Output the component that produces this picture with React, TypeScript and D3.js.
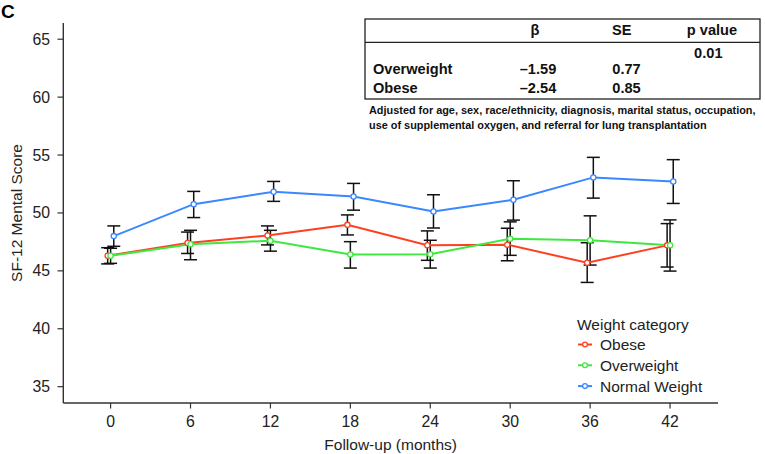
import React from "react";
import * as d3 from "d3";

const months = [0, 6, 12, 18, 24, 30, 36, 42];
const xTicks = [0, 6, 12, 18, 24, 30, 36, 42];
const yTicks = [35, 40, 45, 50, 55, 60, 65];

const seriesNames = ["Obese", "Overweight", "Normal Weight"];
const seriesColors = ["#ff4020", "#3ee83e", "#3a88ff"];
const seriesDodge = [-0.22, 0, 0.24];

const obeseMean = [46.3, 47.4, 48.05, 48.97, 47.21, 47.26, 45.7, 47.2];
const obeseLow = [45.6, 46.5, 47.24, 48.1, 45.91, 45.87, 44.0, 45.33];
const obeseHigh = [47.0, 48.35, 48.88, 49.83, 48.45, 48.68, 47.43, 49.08];

const overMean = [46.3, 47.3, 47.6, 46.42, 46.43, 47.77, 47.64, 47.22];
const overLow = [45.65, 45.96, 46.7, 45.24, 45.24, 46.34, 45.5, 44.98];
const overHigh = [46.95, 48.5, 48.5, 47.52, 47.64, 49.23, 49.75, 49.4];

const normMean = [48.0, 50.76, 51.83, 51.42, 50.12, 51.14, 53.07, 52.72];
const normLow = [47.12, 49.6, 51.0, 50.24, 48.7, 49.38, 51.28, 50.82];
const normHigh = [48.88, 51.86, 52.72, 52.55, 51.57, 52.78, 54.8, 54.6];

const tableHeaders = ["β", "SE", "p value"];
const tableRows = ["Overweight", "Obese"];
const tableBeta = ["–1.59", "–2.54"];
const tableSE = ["0.77", "0.85"];
const tableP = "0.01";
const footnote = [
  "Adjusted for age, sex, race/ethnicity, diagnosis, marital status, occupation,",
  "use of supplemental oxygen, and referral for lung transplantation",
];

const FONT = "'Liberation Sans', Arial, Helvetica, sans-serif";

export default function App() {
  const W = 765;
  const H = 454;
  const x = d3.scaleLinear().domain([-3.55, 45.6]).range([63.3, 718]);
  const y = d3.scaleLinear().domain([33.59, 66.4]).range([403, 23]);

  const series = [
    { mean: obeseMean, low: obeseLow, high: obeseHigh },
    { mean: overMean, low: overLow, high: overHigh },
    { mean: normMean, low: normLow, high: normHigh },
  ];

  const line = d3
    .line<[number, number]>()
    .x((d) => d[0])
    .y((d) => d[1]);

  const axisColor = "#333";
  const capW = 6.5;

  return (
    <svg
      width={W}
      height={H}
      style={{ position: "absolute", left: 0, top: 0, fontFamily: FONT }}
    >
      <rect width={W} height={H} fill="#fff" />
      <text x={1} y={18} fontSize={19} fontWeight="bold" fill="#000">
        C
      </text>

      {/* axes */}
      <line x1={x.range()[0]} x2={x.range()[0]} y1={y.range()[1]} y2={y.range()[0]} stroke={axisColor} strokeWidth={1.4} />
      <line x1={x.range()[0]} x2={x.range()[1]} y1={y.range()[0]} y2={y.range()[0]} stroke={axisColor} strokeWidth={1.4} />
      {yTicks.map((t) => (
        <g key={"y" + t}>
          <line x1={57.5} x2={63.3} y1={y(t)} y2={y(t)} stroke={axisColor} strokeWidth={1.2} />
          <text x={50} y={y(t)} dy="0.35em" textAnchor="end" fontSize={15.8} fill="#222">
            {t}
          </text>
        </g>
      ))}
      {xTicks.map((t) => (
        <g key={"x" + t}>
          <line x1={x(t)} x2={x(t)} y1={403} y2={408.5} stroke={axisColor} strokeWidth={1.2} />
          <text x={x(t)} y={427} textAnchor="middle" fontSize={15.8} fill="#222">
            {t}
          </text>
        </g>
      ))}
      <text x={(x.range()[0] + x.range()[1]) / 2} y={450} textAnchor="middle" fontSize={15.5} fill="#222">
        Follow-up (months)
      </text>
      <text
        transform={`translate(21.5, ${(y.range()[0] + y.range()[1]) / 2}) rotate(-90)`}
        textAnchor="middle"
        fontSize={15.5}
        fill="#222"
      >
        SF-12 Mental Score
      </text>

      {/* error bars */}
      {series.map((s, si) => (
        <g key={"eb" + si}>
          {months.map((m, i) => {
            const cx = x(m + seriesDodge[si]);
            return (
              <g key={i} stroke="#111" strokeWidth={1.5}>
                <line x1={cx} x2={cx} y1={y(s.low[i])} y2={y(s.high[i])} />
                <line x1={cx - capW} x2={cx + capW} y1={y(s.low[i])} y2={y(s.low[i])} />
                <line x1={cx - capW} x2={cx + capW} y1={y(s.high[i])} y2={y(s.high[i])} />
              </g>
            );
          })}
        </g>
      ))}

      {/* lines */}
      {series.map((s, si) => (
        <path
          key={"ln" + si}
          d={line(months.map((m, i) => [x(m + seriesDodge[si]), y(s.mean[i])]) as [number, number][]) || ""}
          fill="none"
          stroke={seriesColors[si]}
          strokeWidth={2}
        />
      ))}
      {series.map((s, si) => (
        <g key={"pt" + si}>
          {months.map((m, i) => (
            <circle
              key={i}
              cx={x(m + seriesDodge[si])}
              cy={y(s.mean[i])}
              r={2.6}
              fill="#fff"
              stroke={seriesColors[si]}
              strokeWidth={1.3}
            />
          ))}
        </g>
      ))}

      {/* legend */}
      <text x={577} y={330} fontSize={15.5} fill="#222">
        Weight category
      </text>
      {seriesNames.map((n, i) => {
        const ly = 344.5 + i * 20.8;
        return (
          <g key={n}>
            <line x1={578} x2={592} y1={ly} y2={ly} stroke={seriesColors[i]} strokeWidth={2} />
            <circle cx={585} cy={ly} r={2.4} fill="#fff" stroke={seriesColors[i]} strokeWidth={1.3} />
            <text x={600} y={ly} dy="0.35em" fontSize={15.5} fill="#222">
              {n}
            </text>
          </g>
        );
      })}

      {/* table */}
      <g fontWeight="bold" fontSize={14.6} fill="#111">
        <rect x={365} y={19} width={395} height={80} fill="#fff" stroke="#222" strokeWidth={1.3} />
        <line x1={365} x2={760} y1={42.3} y2={42.3} stroke="#222" strokeWidth={1.3} />
        {tableHeaders.map((h, i) => (
          <text key={h} x={[535, 621.7, 712][i]} y={35} textAnchor="middle">
            {h}
          </text>
        ))}
        <text x={708.3} y={58.3} textAnchor="middle">
          {tableP}
        </text>
        {tableRows.map((r, i) => (
          <g key={r}>
            <text x={373} y={74 + i * 19.3}>
              {r}
            </text>
            <text x={538} y={74 + i * 19.3} textAnchor="middle">
              {tableBeta[i]}
            </text>
            <text x={626.5} y={74 + i * 19.3} textAnchor="middle">
              {tableSE[i]}
            </text>
          </g>
        ))}
        {footnote.map((f, i) => (
          <text key={i} x={369} y={114 + i * 14.5} fontSize={10.9}>
            {f}
          </text>
        ))}
      </g>
    </svg>
  );
}
